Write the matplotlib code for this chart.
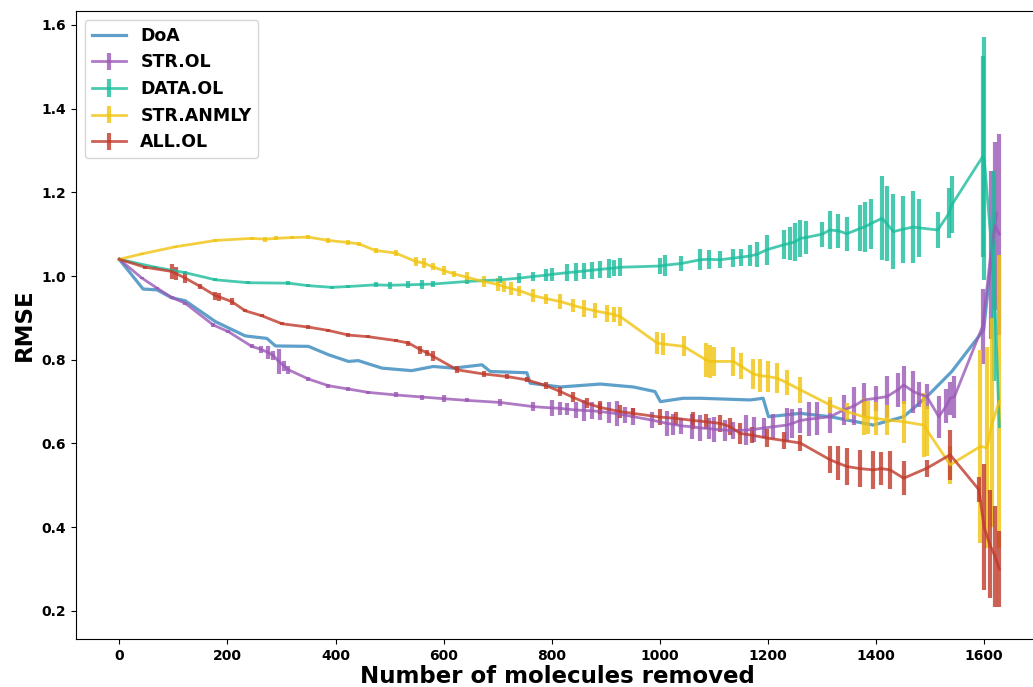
"""
RMSE vs number of molecules removed
Recreates the outlier-removal comparison plot
"""

import matplotlib
matplotlib.use('Agg')
import matplotlib.pyplot as plt

# DoA: plain line, no error bars
x_doa = [0, 44, 70, 97, 122, 178, 233, 273, 289, 350,
         387, 424, 442, 486, 541, 581, 618, 671, 686, 754,
         760, 816, 890, 951, 991, 1001, 1043, 1075, 1167, 1191,
         1201, 1260, 1315, 1395, 1451, 1494, 1540, 1599, 1622]
y_doa = [1.040, 0.969, 0.967, 0.948, 0.941, 0.891, 0.857, 0.851, 0.833, 0.832,
         0.812, 0.796, 0.798, 0.780, 0.774, 0.784, 0.780, 0.788, 0.772, 0.769,
         0.744, 0.735, 0.742, 0.735, 0.724, 0.700, 0.708, 0.708, 0.704, 0.708,
         0.664, 0.672, 0.664, 0.644, 0.664, 0.712, 0.772, 0.871, 1.150]

# STR.OL
x_str = [0, 42, 70, 97, 122, 174, 202, 245, 262, 276,
         285, 295, 305, 313, 350, 387, 424, 461, 511, 560,
         600, 643, 705, 766, 800, 815, 828, 845, 860, 875,
         890, 905, 920, 935, 951, 985, 1013, 1025, 1040, 1060,
         1075, 1090, 1100, 1120, 1136, 1160, 1175, 1192, 1210, 1235,
         1245, 1260, 1275, 1290, 1315, 1340, 1360, 1377, 1400, 1420,
         1440, 1451, 1469, 1480, 1494, 1516, 1530, 1537, 1545, 1597,
         1612, 1620, 1628]
y_str = [1.040, 0.995, 0.971, 0.949, 0.935, 0.883, 0.867, 0.832, 0.825, 0.817,
         0.810, 0.796, 0.785, 0.776, 0.754, 0.738, 0.730, 0.722, 0.716, 0.711,
         0.707, 0.703, 0.698, 0.688, 0.685, 0.684, 0.682, 0.680, 0.679, 0.678,
         0.676, 0.674, 0.671, 0.668, 0.664, 0.656, 0.648, 0.646, 0.642, 0.640,
         0.637, 0.636, 0.634, 0.632, 0.631, 0.632, 0.634, 0.637, 0.640, 0.644,
         0.648, 0.655, 0.658, 0.660, 0.664, 0.680, 0.690, 0.704, 0.708, 0.712,
         0.728, 0.740, 0.724, 0.718, 0.712, 0.664, 0.690, 0.708, 0.712, 0.880,
         1.050, 1.120, 1.100]
e_str = [0.000, 0.003, 0.003, 0.003, 0.004, 0.004, 0.004, 0.005, 0.008, 0.015,
         0.010, 0.030, 0.012, 0.010, 0.005, 0.005, 0.005, 0.004, 0.006, 0.006,
         0.008, 0.005, 0.008, 0.010, 0.020, 0.015, 0.015, 0.020, 0.025, 0.020,
         0.020, 0.025, 0.030, 0.020, 0.020, 0.020, 0.030, 0.025, 0.020, 0.030,
         0.030, 0.025, 0.030, 0.025, 0.020, 0.035, 0.030, 0.025, 0.030, 0.040,
         0.035, 0.030, 0.040, 0.040, 0.040, 0.035, 0.045, 0.040, 0.030, 0.050,
         0.040, 0.045, 0.050, 0.030, 0.030, 0.050, 0.040, 0.040, 0.050, 0.090,
         0.200, 0.200, 0.240]

# DATA.OL
x_data = [0, 67, 122, 178, 239, 313, 350, 393, 424, 474,
          500, 535, 560, 581, 643, 705, 740, 766, 790, 800,
          828, 845, 860, 875, 890, 905, 915, 927, 1001, 1010,
          1040, 1075, 1090, 1112, 1136, 1150, 1167, 1180, 1198, 1230,
          1240, 1250, 1260, 1270, 1300, 1315, 1330, 1346, 1371, 1380,
          1390, 1411, 1420, 1432, 1450, 1469, 1480, 1514, 1535, 1540,
          1597, 1600, 1618, 1628]
y_data = [1.040, 1.021, 1.008, 0.991, 0.984, 0.983, 0.977, 0.973, 0.975, 0.979,
          0.978, 0.979, 0.980, 0.981, 0.987, 0.991, 0.995, 0.999, 1.002, 1.004,
          1.008, 1.010, 1.012, 1.014, 1.016, 1.018, 1.019, 1.021, 1.024, 1.026,
          1.030, 1.039, 1.040, 1.039, 1.043, 1.045, 1.048, 1.052, 1.063, 1.075,
          1.078, 1.082, 1.090, 1.092, 1.100, 1.110, 1.108, 1.101, 1.114, 1.118,
          1.125, 1.138, 1.125, 1.106, 1.112, 1.117, 1.115, 1.110, 1.150, 1.170,
          1.285, 1.280, 1.000, 0.640]
e_data = [0.000, 0.002, 0.003, 0.004, 0.003, 0.004, 0.003, 0.003, 0.004, 0.006,
          0.008, 0.008, 0.010, 0.006, 0.006, 0.008, 0.012, 0.010, 0.015, 0.015,
          0.020, 0.022, 0.018, 0.020, 0.020, 0.022, 0.020, 0.022, 0.020, 0.025,
          0.018, 0.025, 0.022, 0.020, 0.022, 0.020, 0.025, 0.030, 0.036, 0.035,
          0.040, 0.045, 0.044, 0.040, 0.030, 0.046, 0.040, 0.040, 0.055, 0.060,
          0.060, 0.100, 0.090, 0.090, 0.080, 0.085, 0.070, 0.042, 0.060, 0.068,
          0.240, 0.290, 0.250, 0.000]

# STR.ANMLY
x_anm = [0, 42, 104, 178, 245, 270, 289, 320, 350, 387,
         424, 443, 474, 511, 548, 563, 580, 600, 620, 643,
         674, 700, 711, 725, 740, 766, 790, 816, 840, 859,
         880, 902, 915, 927, 995, 1005, 1044, 1085, 1093, 1100,
         1136, 1150, 1173, 1185, 1200, 1217, 1235, 1260, 1315, 1346,
         1377, 1385, 1400, 1420, 1451, 1488, 1495, 1537, 1593, 1605,
         1615, 1628]
y_anm = [1.040, 1.053, 1.070, 1.085, 1.090, 1.088, 1.090, 1.092, 1.093, 1.085,
         1.080, 1.077, 1.061, 1.055, 1.035, 1.031, 1.022, 1.013, 1.005, 0.997,
         0.987, 0.980, 0.975, 0.970, 0.965, 0.953, 0.946, 0.939, 0.930, 0.923,
         0.917, 0.911, 0.908, 0.903, 0.840, 0.838, 0.832, 0.800, 0.796, 0.796,
         0.796, 0.785, 0.766, 0.762, 0.760, 0.756, 0.745, 0.728, 0.692, 0.676,
         0.664, 0.662, 0.660, 0.656, 0.652, 0.644, 0.630, 0.549, 0.593, 0.590,
         0.650, 0.700]
e_anm = [0.000, 0.002, 0.002, 0.003, 0.004, 0.006, 0.005, 0.004, 0.004, 0.006,
         0.006, 0.005, 0.006, 0.008, 0.010, 0.012, 0.008, 0.010, 0.008, 0.012,
         0.012, 0.015, 0.014, 0.015, 0.012, 0.015, 0.012, 0.018, 0.015, 0.020,
         0.018, 0.020, 0.018, 0.022, 0.026, 0.026, 0.024, 0.040, 0.040, 0.035,
         0.035, 0.030, 0.036, 0.040, 0.036, 0.036, 0.030, 0.032, 0.020, 0.020,
         0.044, 0.040, 0.040, 0.036, 0.050, 0.076, 0.060, 0.045, 0.230, 0.240,
         0.250, 0.350]

# ALL.OL
x_all = [0, 48, 97, 105, 122, 150, 178, 185, 208, 233,
         264, 301, 350, 387, 424, 461, 511, 535, 557, 570,
         581, 625, 674, 717, 754, 790, 816, 840, 865, 890,
         927, 950, 1001, 1030, 1062, 1085, 1112, 1130, 1149, 1170,
         1198, 1230, 1260, 1315, 1330, 1346, 1370, 1395, 1410, 1426,
         1451, 1494, 1537, 1590, 1600, 1610, 1620, 1628]
y_all = [1.040, 1.021, 1.011, 1.006, 0.995, 0.975, 0.953, 0.950, 0.939, 0.917,
         0.905, 0.886, 0.878, 0.870, 0.859, 0.855, 0.846, 0.840, 0.824, 0.816,
         0.808, 0.776, 0.766, 0.760, 0.752, 0.738, 0.724, 0.710, 0.696, 0.686,
         0.676, 0.672, 0.663, 0.660, 0.655, 0.652, 0.648, 0.640, 0.624, 0.620,
         0.613, 0.607, 0.601, 0.561, 0.553, 0.545, 0.540, 0.537, 0.540, 0.537,
         0.517, 0.541, 0.573, 0.490, 0.400, 0.360, 0.330, 0.300]
e_all = [0.000, 0.004, 0.017, 0.015, 0.012, 0.006, 0.010, 0.010, 0.008, 0.004,
         0.004, 0.004, 0.004, 0.004, 0.005, 0.004, 0.004, 0.006, 0.010, 0.008,
         0.012, 0.008, 0.008, 0.006, 0.006, 0.008, 0.010, 0.012, 0.012, 0.015,
         0.015, 0.012, 0.020, 0.015, 0.020, 0.018, 0.020, 0.020, 0.025, 0.020,
         0.022, 0.020, 0.020, 0.032, 0.040, 0.045, 0.045, 0.045, 0.040, 0.045,
         0.040, 0.020, 0.060, 0.030, 0.150, 0.130, 0.120, 0.090]

plt.rcParams['font.family'] = 'DejaVu Sans'
plt.rcParams['font.weight'] = 'bold'

fig = plt.figure(figsize=(10.33, 6.87), dpi=100)
# right spine sits just outside the picture, as in the reference
ax = fig.add_axes([0.0736, 0.0699, 0.9315, 0.914])

ax.plot(x_doa, y_doa, color='#2980b9', lw=2.3, alpha=0.75, label='DoA')

series = [
    (x_str, y_str, e_str, '#9b59b6', 'STR.OL'),
    (x_data, y_data, e_data, '#1abc9c', 'DATA.OL'),
    (x_anm, y_anm, e_anm, '#f1c40f', 'STR.ANMLY'),
    (x_all, y_all, e_all, '#c0392b', 'ALL.OL'),
]
for xs, ys, es, col, name in series:
    ax.errorbar(xs, ys, yerr=es, color=col, lw=2, elinewidth=3,
                alpha=0.8, label=name)

ax.set_xlim(-80, 1700)
ax.set_ylim(0.133, 1.633)
ax.tick_params(labelsize=10)
ax.set_xlabel('Number of molecules removed', fontsize=16.5, fontweight='bold',
              labelpad=1.5)
ax.set_ylabel('RMSE', fontsize=16.5, fontweight='bold')
ax.legend(loc='upper left', fontsize=12.5)

plt.savefig('out.png', dpi=100)
print("saved out.png")
